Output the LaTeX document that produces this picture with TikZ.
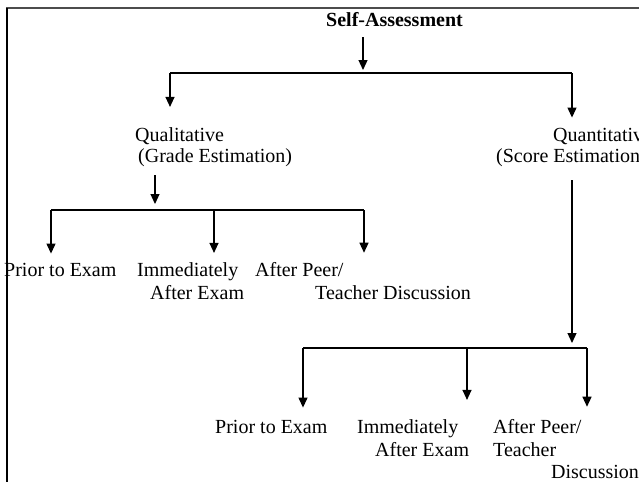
\documentclass[tikz,border=0pt]{standalone}
\usepackage{fontspec}
\setmainfont{Liberation Serif}
\usetikzlibrary{arrows.meta,calc}
\begin{document}
\begin{tikzpicture}[x=1pt,y=-1pt,
  lbl/.style={anchor=base west,inner sep=0pt,font=\fontsize{20}{23}\selectfont},
  conn/.style={line width=1.2pt},
  arr/.style={conn,-{Triangle[length=10pt,width=9pt]}}]
\useasboundingbox (0,0) rectangle (639,482);
\clip (0,0) rectangle (639,482);
% texts
\node[lbl,font=\fontsize{20}{23}\selectfont\bfseries] (sa) at (326,26) {Self-Assessment};
\node[lbl] (ql1) at (135,141) {Qualitative};
\node[lbl] (ql2) at (138,162) {(Grade Estimation)};
\node[lbl] (qn1) at (553,141) {Quantitative};
\node[lbl] (qn2) at (496,162) {(Score Estimation)};
\node[lbl] (lp) at (4,276) {Prior to Exam};
\node[lbl] (li1) at (137,276) {Immediately};
\node[lbl] (li2) at (150,299) {After Exam};
\node[lbl] (la1) at (255,276) {After Peer/};
\node[lbl] (la2) at (315,299) {Teacher Discussion};
\node[lbl] (rp) at (215,433) {Prior to Exam};
\node[lbl] (ri1) at (357,433) {Immediately};
\node[lbl] (ri2) at (375,456) {After Exam};
\node[lbl] (ra1) at (493,433) {After Peer/};
\node[lbl] (ra2) at (493,456) {Teacher};
\node[lbl] (ra3) at (551,478) {Discussion};
% junction points
\coordinate (b0) at (363,73);
\coordinate (b0L) at (170,73);
\coordinate (b0R) at (572,73);
\coordinate (b1) at (155,210);
\coordinate (b1a) at (51,210);
\coordinate (b1b) at (214,210);
\coordinate (b1c) at (364,210);
\coordinate (b2) at (572,348);
\coordinate (b2a) at (303,348);
\coordinate (b2b) at (467,348);
\coordinate (b2c) at (587,348);
% connectors
\draw[arr,shorten <=11pt,shorten >=3pt] (sa.south -| b0) -- (b0);
\draw[conn] (b0L) -- (b0R);
\draw[arr,shorten >=20pt] (b0L) -- (b0L |- ql1.north);
\draw[arr,shorten >=10pt] (b0R) -- (b0R |- qn1.north);
\draw[arr,shorten <=9pt,shorten >=6pt] (ql2.south -| b1) -- (b1);
\draw[conn] (b1a) -- (b1c);
\draw[arr,shorten >=9pt] (b1a) -- (b1a |- lp.north);
\draw[arr,shorten >=9pt] (b1b) -- (b1b |- li1.north);
\draw[arr,shorten >=9pt] (b1c) -- (b1c |- la1.north);
\draw[arr,shorten <=14pt,shorten >=5pt] (qn2.south -| b2) -- (b2);
\draw[conn] (b2a) -- (b2c);
\draw[arr,shorten >=12pt] (b2a) -- (b2a |- rp.north);
\draw[arr,shorten >=19pt] (b2b) -- (b2b |- ri1.north);
\draw[arr,shorten >=12pt] (b2c) -- (b2c |- ra1.north);
% frame
\draw[line width=2pt,black!70] (6,8) -- (639,8);
\draw[line width=1.5pt] (7,8) -- (7,482);
\end{tikzpicture}
\end{document}
